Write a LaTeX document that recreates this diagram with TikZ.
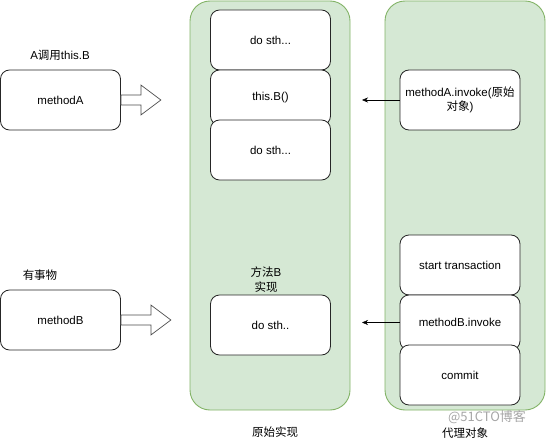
\documentclass[tikz,border=0pt]{standalone}
\usepackage{fontspec}
\setmainfont{Liberation Sans}
\newfontfamily\cjk{Noto Sans CJK SC}
\usetikzlibrary{arrows.meta, positioning}
\definecolor{panelfill}{HTML}{D5E8D4}
\definecolor{panelline}{HTML}{82B366}

\begin{document}
\begin{tikzpicture}[x=1pt, y=-1pt, >={Stealth[length=6pt, width=5pt]}, font=\fontsize{11.5}{14}\selectfont,
  panel/.style={draw=panelline, fill=panelfill, rounded corners=20pt, line width=0.9pt},
  stepbox/.style={draw=black!85, fill=white, rounded corners=9pt, minimum width=120pt, line width=0.8pt, align=center, inner sep=1pt},
  blockarrow/.style={draw=black!70, fill=white, line width=0.7pt}]

        \useasboundingbox (0,0) rectangle (546,441);

        % Panels
        \draw[panel] (190,1) rectangle (350,410);
        \draw[panel] (385,1) rectangle (545,410);

        % Left side
        \node (mA) [stepbox, minimum height=60pt] at (60.5,100) {methodA};
        \node (mB) [stepbox, minimum height=60pt] at (60.5,320) {methodB};
        \node (callA) at (60,55) {A{\cjk 调用}this.B};
        \node (txB) at (40,275) {\cjk 有事物};

        % Block arrows
        \draw[blockarrow] (mA.east) ++(0,-5) -- ++(20,0) -- ++(0,-10) -- ++(20,15)
          -- ++(-20,15) -- ++(0,-10) -- ++(-20,0) -- cycle;
        \draw[blockarrow] (mB.east) ++(0,-5) -- ++(30,0) -- ++(0,-10) -- ++(20,15)
          -- ++(-20,15) -- ++(0,-10) -- ++(-30,0) -- cycle;

        % Original implementation
        \node (do1) [stepbox, minimum height=60pt] at (270.5,40) {do sth...};
        \node (thisB) [stepbox, minimum height=55pt] at (270.5,97.5) {this.B()};
        \node (do2) [stepbox, minimum height=60pt] at (270.5,150) {do sth...};
        \node (implB) [align=center, font=\cjk\fontsize{11.5}{15}\selectfont] at (266,280) {方法{\rmfamily B}\\实现};
        \node (doB) [stepbox, minimum height=60pt] at (270.5,325) {do sth..};

        % Proxy
        \node (invA) [stepbox, minimum height=60pt] at (460,100) {methodA.invoke({\cjk 原始}\\{\cjk 对象})};
        \node (start) [stepbox, minimum height=60pt] at (460,265) {start transaction};
        \node (invB) [stepbox, minimum height=55pt] at (460,322.5) {methodB.invoke};
        \node (commit) [stepbox, minimum height=60pt] at (460,375) {commit};

        % Captions
        \node (origCap) [font=\cjk\fontsize{11.5}{14}\selectfont] at (275,432) {原始实现};
        \node (proxyCap) [font=\cjk\fontsize{11.5}{14}\selectfont] at (465,433) {代理对象};
        \node (mark) [font=\cjk\fontsize{13}{15}\selectfont, text=black!35, inner sep=0pt] at (487,417) {@51CTO博客};

        % Calls
        \coordinate (tipA) at (362,100);
        \coordinate (tipB) at (362,322.5);
        \draw[->] (invA) -- (tipA);
        \draw[->] (invB) -- (tipB);

      \end{tikzpicture}
\end{document}
